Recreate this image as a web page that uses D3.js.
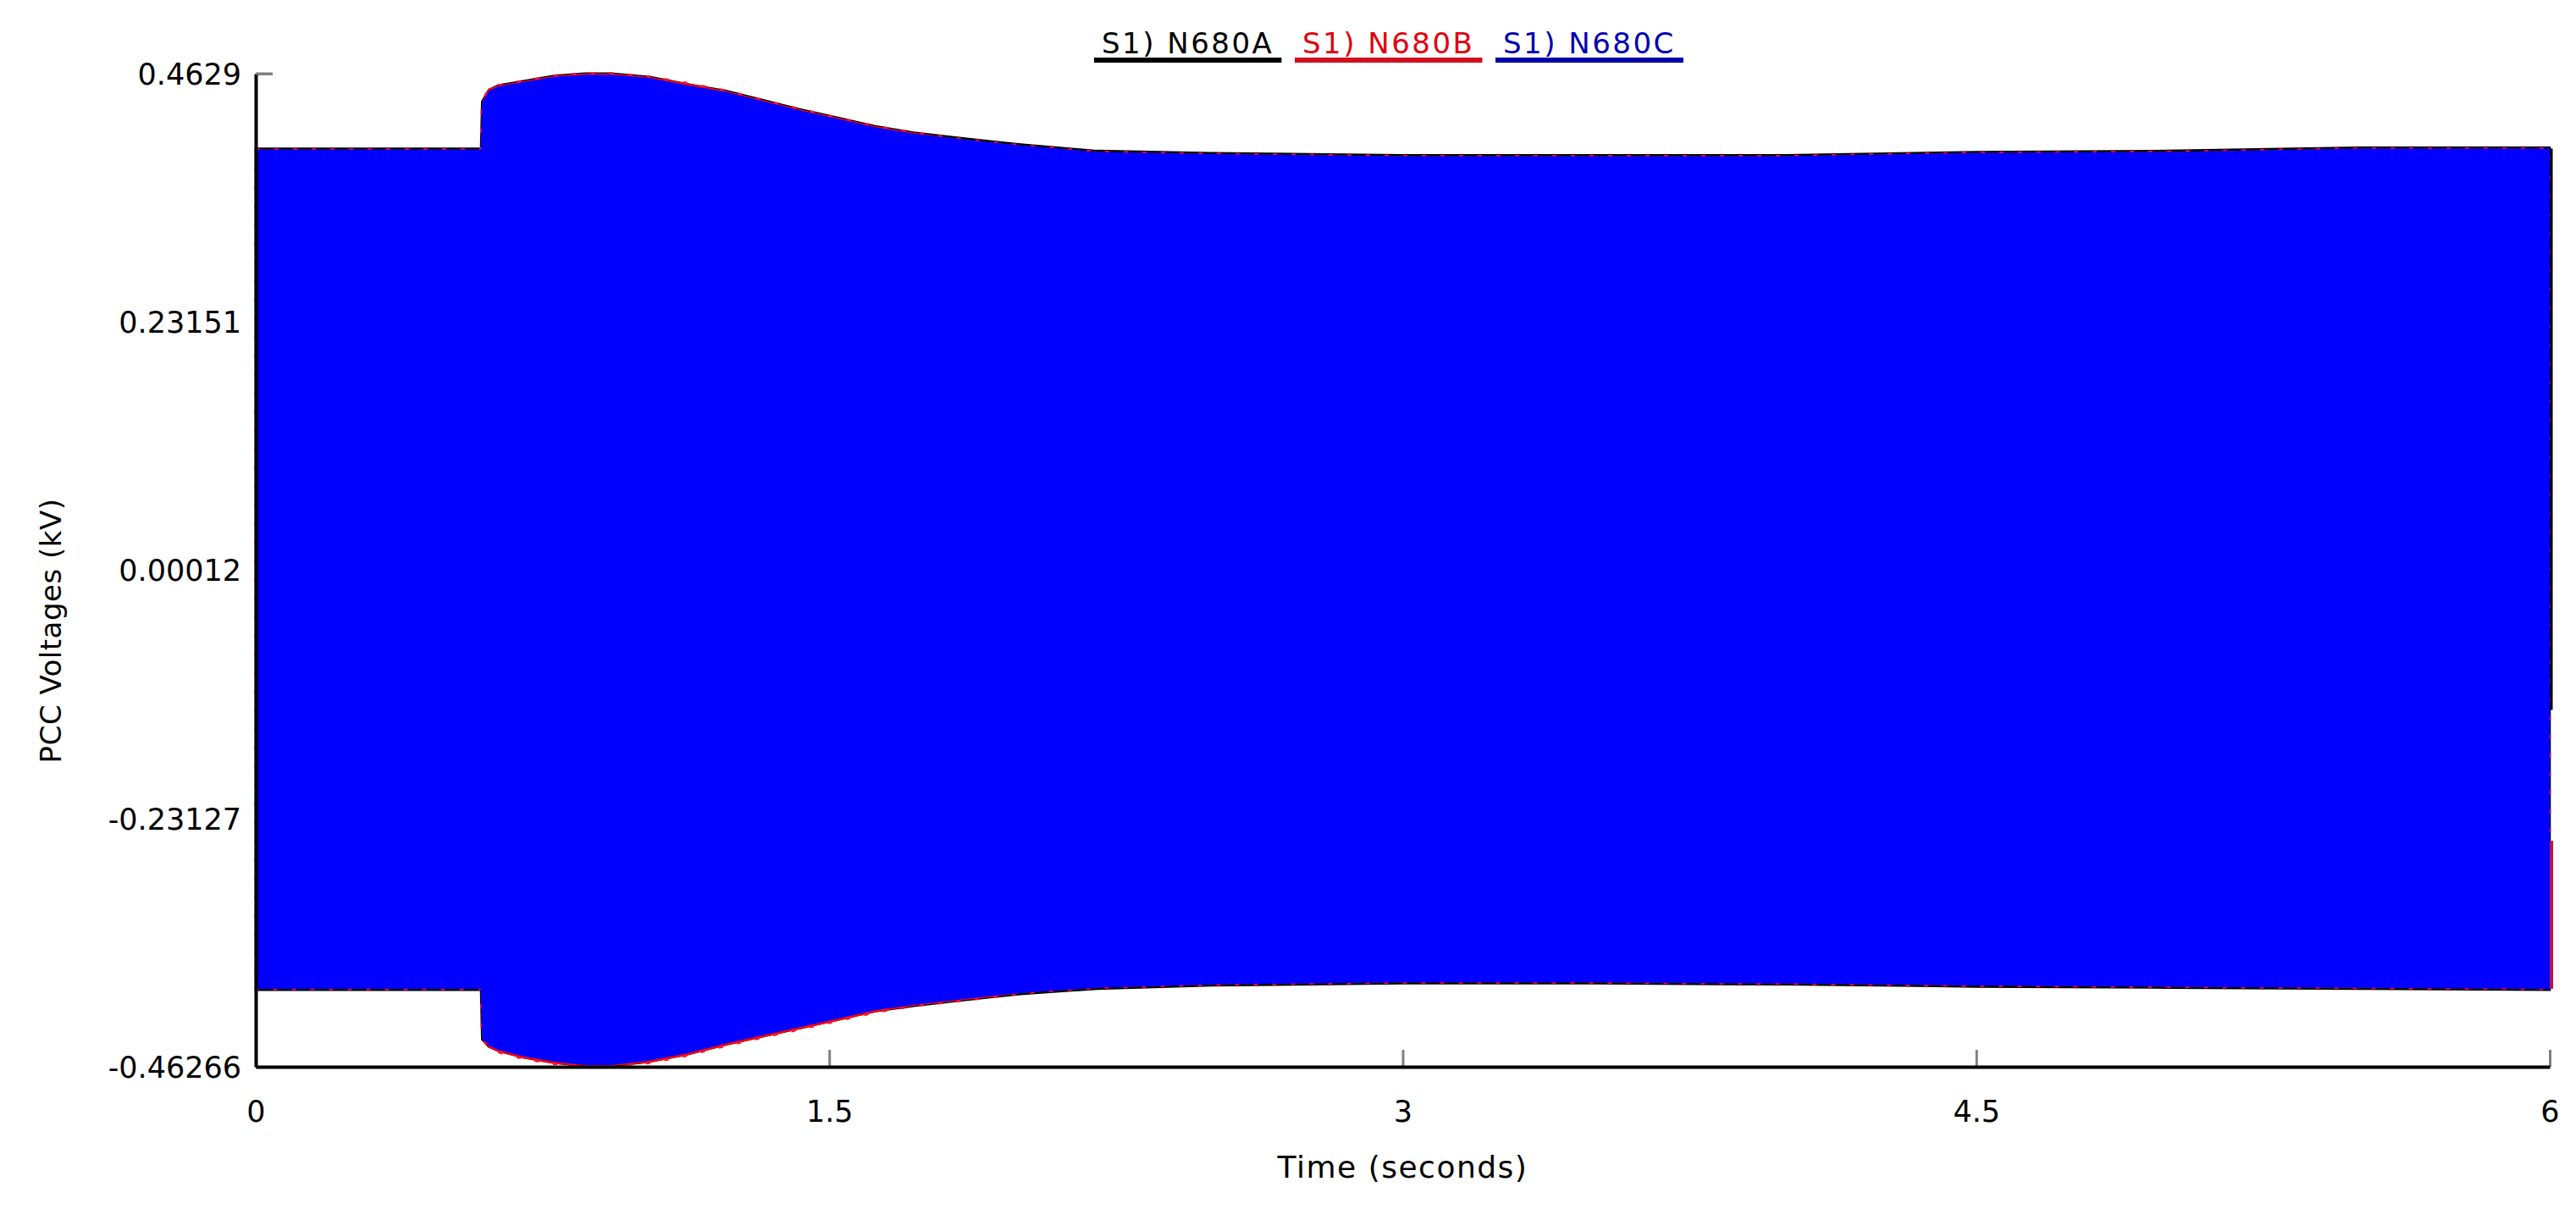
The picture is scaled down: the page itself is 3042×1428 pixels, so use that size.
<!DOCTYPE html>
<html>
<head>
<meta charset="utf-8">
<script src="https://cdn.jsdelivr.net/npm/d3@7/dist/d3.min.js"></script>
<style>
  html, body { margin: 0; padding: 0; background: #ffffff; }
  svg { display: block; }
  text { font-family: "DejaVu Sans", sans-serif; }
</style>
</head>
<body>
<svg id="chart" width="3042" height="1428"></svg>
<script>
// ---------------- data ----------------
const seriesNames = ["S1) N680A", "S1) N680B", "S1) N680C"];
const seriesColors = ["#000000", "#ff0000", "#0000ff"];
const legendTextColors = ["#000000", "#e00010", "#0000b4"];

const xTickValues = [0, 1.5, 3, 4.5, 6];
const xTickLabels = ["0", "1.5", "3", "4.5", "6"];
const yTickValues = [-0.46266, -0.23127, 0.00012, 0.23151, 0.4629];
const yTickLabels = ["-0.46266", "-0.23127", "0.00012", "0.23151", "0.4629"];

// time (s) of envelope readings
const time = [0, 0.30, 0.589, 0.592, 0.61, 0.635, 0.70, 0.78, 0.86, 0.93, 1.03, 1.13, 1.23, 1.33, 1.42, 1.52, 1.62, 1.72, 1.82, 1.92, 2.00, 2.20, 2.50, 3.00, 3.50, 4.00, 4.50, 5.00, 5.50, 6.00];

// upper / lower envelopes of each phase voltage (kV)
const upperA = [0.393, 0.393, 0.393, 0.437, 0.448, 0.452, 0.456, 0.461, 0.463, 0.463, 0.460, 0.453, 0.447, 0.438, 0.430, 0.422, 0.414, 0.408, 0.404, 0.400, 0.397, 0.391, 0.389, 0.387, 0.387, 0.387, 0.390, 0.391, 0.394, 0.394];
const lowerA = [-0.391, -0.391, -0.391, -0.437, -0.444, -0.448, -0.454, -0.459, -0.462, -0.462, -0.458, -0.451, -0.442, -0.434, -0.427, -0.419, -0.411, -0.406, -0.402, -0.398, -0.395, -0.390, -0.387, -0.385, -0.385, -0.386, -0.388, -0.389, -0.390, -0.391];
const upperB = [0.392, 0.392, 0.392, 0.437, 0.449, 0.452, 0.456, 0.461, 0.463, 0.463, 0.460, 0.454, 0.447, 0.438, 0.430, 0.422, 0.414, 0.408, 0.403, 0.399, 0.396, 0.390, 0.388, 0.386, 0.386, 0.386, 0.389, 0.390, 0.393, 0.393];
const lowerB = [-0.390, -0.390, -0.390, -0.436, -0.445, -0.449, -0.455, -0.460, -0.462, -0.462, -0.459, -0.452, -0.443, -0.435, -0.428, -0.420, -0.412, -0.406, -0.402, -0.398, -0.394, -0.389, -0.386, -0.384, -0.384, -0.385, -0.387, -0.388, -0.389, -0.390];
const upperC = [0.392, 0.392, 0.392, 0.436, 0.447, 0.451, 0.455, 0.460, 0.462, 0.462, 0.459, 0.452, 0.446, 0.437, 0.429, 0.421, 0.413, 0.407, 0.403, 0.399, 0.396, 0.390, 0.388, 0.386, 0.386, 0.386, 0.389, 0.390, 0.393, 0.393];
const lowerC = [-0.390, -0.390, -0.390, -0.436, -0.443, -0.447, -0.453, -0.458, -0.461, -0.461, -0.457, -0.450, -0.441, -0.433, -0.426, -0.418, -0.410, -0.405, -0.401, -0.397, -0.394, -0.389, -0.386, -0.384, -0.384, -0.385, -0.387, -0.388, -0.389, -0.390];

// last half-cycle segments of phases A and B at t = 6 s
const endTime = [6, 6];
const endA = [0.393, -0.130];
const endB = [-0.252, -0.390];

// ---------------- layout ----------------
const W = 3042, H = 1428;
const margin = { left: 302, right: 31, top: 87, bottom: 168 };
const svg = d3.select("#chart");

const x = d3.scaleLinear().domain([0, 6]).range([margin.left, W - margin.right]);
const y = d3.scaleLinear().domain([-0.46266, 0.4629]).range([H - margin.bottom, margin.top]);

// ---------------- axes (ticks + labels, below the data) ----------------
const xAxis = d3.axisBottom(x)
  .tickValues(xTickValues)
  .tickFormat((d, i) => xTickLabels[i])
  .tickSizeInner(-20).tickSizeOuter(0).tickPadding(40);
const gx = svg.append("g").attr("transform", `translate(0,${y.range()[0]})`).call(xAxis);
gx.select(".domain").remove();
gx.selectAll(".tick line").attr("stroke", "#808080").attr("stroke-width", 3);
gx.selectAll(".tick text").attr("font-size", 35).attr("fill", "#000").attr("dy", "0.71em");

const yAxis = d3.axisLeft(y)
  .tickValues(yTickValues)
  .tickFormat((d, i) => yTickLabels[i])
  .tickSizeInner(-20).tickSizeOuter(0).tickPadding(17);
const gy = svg.append("g").attr("transform", `translate(${x.range()[0]},0)`).call(yAxis);
gy.select(".domain").remove();
gy.selectAll(".tick line").attr("stroke", "#808080").attr("stroke-width", 3);
gy.selectAll(".tick text").attr("font-size", 35).attr("fill", "#000").attr("dy", "0.35em");

// ---------------- data areas ----------------
const envelopes = [
  { up: upperA, lo: lowerA },
  { up: upperB, lo: lowerB },
  { up: upperC, lo: lowerC }
];
const area = d3.area()
  .x(d => x(d.t))
  .y0(d => y(d.lo))
  .y1(d => y(d.up));

const strokeStyles = [
  { stroke: "#000000", width: 2.5, dash: null },
  { stroke: "#ff1030", width: 3, dash: "5,17" },
  { stroke: "none", width: 0, dash: null }
];

const gData = svg.append("g");
envelopes.forEach((env, k) => {
  const pts = time.map((t, i) => ({ t: t, up: env.up[i], lo: env.lo[i] }));
  gData.append("path")
    .datum(pts)
    .attr("d", area)
    .attr("fill", seriesColors[k])
    .attr("stroke", strokeStyles[k].stroke)
    .attr("stroke-width", strokeStyles[k].width)
    .attr("stroke-dasharray", strokeStyles[k].dash);
});

// end segments
const line = d3.line().x(d => x(d.t)).y(d => y(d.v));
gData.append("path")
  .datum(endTime.map((t, i) => ({ t: t, v: endA[i] })))
  .attr("d", line).attr("stroke", seriesColors[0]).attr("stroke-width", 3)
  .attr("fill", "none").attr("transform", "translate(2,0)");
gData.append("path")
  .datum(endTime.map((t, i) => ({ t: t, v: endB[i] })))
  .attr("d", line).attr("stroke", "#c0104a").attr("stroke-width", 4)
  .attr("fill", "none").attr("transform", "translate(2,0)");

// ---------------- axis lines on top ----------------
svg.append("g").attr("transform", `translate(0,${y.range()[0]})`)
  .call(d3.axisBottom(x).tickValues([]).tickSizeOuter(0))
  .select(".domain").attr("stroke", "#000").attr("stroke-width", 4);
svg.append("g").attr("transform", `translate(${x.range()[0]},0)`)
  .call(d3.axisLeft(y).tickValues([]).tickSizeOuter(0))
  .select(".domain").attr("stroke", "#000").attr("stroke-width", 4);
// visible top tick of y axis
svg.append("line")
  .attr("x1", x.range()[0]).attr("x2", x.range()[0] + 20)
  .attr("y1", y(0.4629)).attr("y2", y(0.4629))
  .attr("stroke", "#808080").attr("stroke-width", 3);

// ---------------- axis titles ----------------
svg.append("text")
  .attr("x", (x.range()[0] + x.range()[1]) / 2)
  .attr("y", 1391)
  .attr("text-anchor", "middle")
  .attr("font-size", 36)
  .attr("letter-spacing", 1.5)
  .text("Time (seconds)");

svg.append("text")
  .attr("transform", "translate(72,745) rotate(-90)")
  .attr("text-anchor", "middle")
  .attr("font-size", 34)
  .attr("letter-spacing", 0.5)
  .text("PCC Voltages (kV)");

// ---------------- legend ----------------
const legendX = [1301, 1538, 1775];
const legend = svg.append("g");
seriesNames.forEach((name, k) => {
  const t = legend.append("text")
    .attr("x", legendX[k]).attr("y", 63)
    .attr("font-size", 34)
    .attr("letter-spacing", 2.5)
    .attr("fill", legendTextColors[k])
    .text(name);
  const w = t.node().getComputedTextLength();
  legend.append("rect")
    .attr("x", legendX[k] - 9).attr("y", 68)
    .attr("width", w + 18).attr("height", 6)
    .attr("fill", k === 1 ? "#d0101e" : (k === 2 ? "#0000a8" : "#000"));
});
</script>
</body>
</html>
